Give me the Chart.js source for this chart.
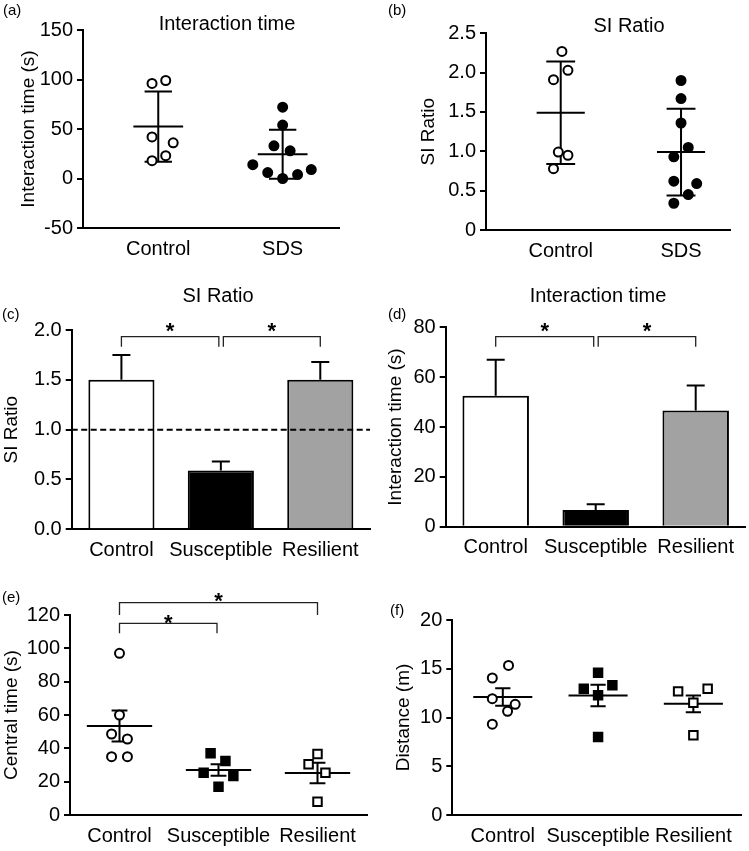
<!DOCTYPE html>
<html>
<head>
<meta charset="utf-8">
<title>Social interaction test</title>
<script src="https://cdn.jsdelivr.net/npm/chart.js@4.4.1/dist/chart.umd.min.js"></script>
<style>
  body { margin: 0; background: #fff; }
  #fig { position: relative; width: 749px; height: 851px; background: #fff; }
  #fig canvas { position: absolute; }
</style>
</head>
<body>
<div id="fig">
  <canvas id="chartA" width="375" height="265" style="left:0;top:0"></canvas>
  <canvas id="chartB" width="374" height="265" style="left:375px;top:0"></canvas>
  <canvas id="chartC" width="375" height="290" style="left:0;top:285px"></canvas>
  <canvas id="chartD" width="374" height="290" style="left:375px;top:285px"></canvas>
  <canvas id="chartE" width="375" height="276" style="left:0;top:575px"></canvas>
  <canvas id="chartF" width="374" height="276" style="left:375px;top:575px"></canvas>
</div>
<script>
const grupos2 = ['Control', 'SDS'];
const grupos3 = ['Control', 'Susceptible', 'Resilient'];

// (a) interaction time, each animal (x = small horizontal spread inside the group)
const aControlY = [96, 99, 42, 36, 23, 18];
const aControlX = [-0.05, 0.06, -0.05, 0.12, 0.06, -0.05];
const aSdsY = [72, 54, 33, 28, 14, 6, 4, 0, 9];
const aSdsX = [0, 0, -0.07, 0.06, -0.24, -0.12, 0.12, 0, 0.23];
const aMedia = [52.5, 24.5];
const aDp = [35.5, 24.7];

// (b) SI ratio, each animal
const bControlY = [2.27, 2.03, 1.91, 0.99, 0.95, 0.78];
const bControlX = [0.01, 0.06, -0.06, -0.02, 0.06, -0.06];
const bSdsY = [1.90, 1.67, 1.36, 1.05, 0.93, 0.62, 0.59, 0.45, 0.34];
const bSdsX = [0, 0, 0, 0.06, -0.06, -0.06, 0.13, 0.06, -0.06];
const bMedia = [1.49, 0.99];
const bDp = [0.65, 0.55];

// (c) SI ratio, mean + SEM
const cMedia = [1.5, 0.59, 1.5];
const cErro = [0.25, 0.09, 0.18];
const cLimiar = 1.0;
const cPares = [[0, 1], [1, 2]];

// (d) interaction time, mean + SEM
const dMedia = [52.5, 6.7, 46.6];
const dErro = [14.5, 2.3, 10];
const dPares = [[0, 1], [1, 2]];

// (e) central time
const eControlY = [97, 60, 48.6, 45.6, 35, 35];
const eControlX = [0, 0, -0.08, 0.08, -0.08, 0.08];
const eSuscY = [37, 32.4, 25.4, 23.4, 17];
const eSuscX = [-0.08, 0.07, -0.15, 0.15, 0];
const eResY = [36.6, 30.4, 25.4, 8];
const eResX = [0, -0.09, 0.08, 0];
const eMedia = [53.4, 27, 25.2];
const eErro = [9.3, 3.4, 6.2];
const ePares = [[0, 1], [0, 2]];

// (f) distance
const fControlY = [15.34, 14.05, 11.93, 11.35, 10.64, 9.31];
const fControlX = [0.06, -0.11, -0.11, 0.13, 0.05, -0.11];
const fSuscY = [14.6, 12.96, 13.3, 12.27, 8.0];
const fSuscX = [0, -0.15, 0.15, 0, 0];
const fResY = [12.68, 12.96, 11.52, 8.18];
const fResX = [-0.16, 0.15, 0, 0];
const fMedia = [12.1, 12.25, 11.4];
const fErro = [0.9, 1.1, 0.85];

const FONTE = "'Liberation Sans', Arial, Helvetica, sans-serif";
Chart.defaults.font.family = FONTE;
Chart.defaults.color = '#000';

// estilos dos marcadores
const circuloAberto = { pointStyle: 'circle', pointRadius: 4.5, pointBackgroundColor: '#fff', pointBorderColor: '#000', pointBorderWidth: 2 };
const circuloCheio = { pointStyle: 'circle', pointRadius: 4.5, pointBackgroundColor: '#000', pointBorderColor: '#000', pointBorderWidth: 2 };
const quadradoCheio = { pointStyle: 'rect', pointRadius: 6, pointBackgroundColor: '#000', pointBorderColor: '#000', pointBorderWidth: 2 };
const quadradoAberto = { pointStyle: 'rect', pointRadius: 6, pointBackgroundColor: '#fff', pointBorderColor: '#000', pointBorderWidth: 2 };

function pontos(grupo, xs, ys, estilo) {
    return Object.assign({
        data: ys.map((v, i) => ({ x: grupo + xs[i], y: v }))
    }, estilo);
}

function eixoY(min, max, passo, titulo, largura, padTitulo, formato) {
    return {
        min: min,
        max: max,
        ticks: { stepSize: passo, color: '#000', font: { size: 20 }, padding: 4, callback: formato },
        grid: { drawOnChartArea: false, color: '#000', lineWidth: 2, tickLength: 6 },
        border: { color: '#000', width: 2 },
        title: { display: true, text: titulo, color: '#000', font: { size: 19 }, padding: { top: padTitulo, bottom: 0 } },
        afterFit: function (s) { s.width = largura; }
    };
}

function eixoXPontos(nomes, min, max, altura) {
    return {
        type: 'linear',
        min: min,
        max: max,
        afterBuildTicks: function (s) { s.ticks = nomes.map((n, i) => ({ value: i })); },
        ticks: { callback: (v) => nomes[v], color: '#000', font: { size: 20 }, padding: 9, maxRotation: 0, autoSkip: false },
        grid: { display: false, drawTicks: false },
        border: { color: '#000', width: 2 },
        afterFit: function (s) { s.height = altura; }
    };
}

function eixoXBarras(altura) {
    return {
        ticks: { color: '#000', font: { size: 20 }, padding: 9, maxRotation: 0, autoSkip: false },
        grid: { display: false, drawTicks: false },
        border: { color: '#000', width: 2 },
        afterFit: function (s) { s.height = altura; }
    };
}

function opcoesBase(pad, eixos, extras) {
    return {
        responsive: false,
        animation: false,
        events: [],
        layout: { padding: pad },
        plugins: Object.assign({ legend: { display: false }, tooltip: { enabled: false } }, extras),
        scales: eixos
    };
}

const numero = (v) => String(v);
const umDecimal = (v) => v.toFixed(1);

// letra do painel e titulo
const textoPainel = {
    id: 'textoPainel',
    afterDraw(chart, args, o) {
        const ctx = chart.ctx;
        ctx.save();
        ctx.fillStyle = '#000';
        ctx.textBaseline = 'alphabetic';
        ctx.textAlign = 'left';
        ctx.font = '15px ' + FONTE;
        ctx.fillText(o.letra, o.lx, o.ly);
        if (o.titulo) {
            ctx.textAlign = 'center';
            ctx.font = '20px ' + FONTE;
            ctx.fillText(o.titulo, o.tx, o.ty);
        }
        ctx.restore();
    }
};

// media com barras de erro (graficos de pontos)
const mediaErro = {
    id: 'mediaErro',
    beforeDatasetsDraw(chart, args, o) {
        const ctx = chart.ctx, x = chart.scales.x, y = chart.scales.y;
        ctx.save();
        ctx.strokeStyle = '#000';
        ctx.lineWidth = 2;
        o.media.forEach((m, i) => {
            const cx = x.getPixelForValue(i);
            const ym = y.getPixelForValue(m);
            const yt = y.getPixelForValue(m + o.erro[i]);
            const yb = y.getPixelForValue(m - o.erro[i]);
            const tampa = x.getPixelForValue(i + o.tampa) - cx;
            ctx.beginPath();
            ctx.moveTo(x.getPixelForValue(i - o.meia), ym);
            ctx.lineTo(x.getPixelForValue(i + o.meia), ym);
            ctx.moveTo(cx, yt);
            ctx.lineTo(cx, yb);
            ctx.moveTo(cx - tampa, yt);
            ctx.lineTo(cx + tampa, yt);
            ctx.moveTo(cx - tampa, yb);
            ctx.lineTo(cx + tampa, yb);
            ctx.stroke();
        });
        ctx.restore();
    }
};

// erro para cima nas colunas
const erroColuna = {
    id: 'erroColuna',
    afterDatasetsDraw(chart, args, o) {
        const ctx = chart.ctx, y = chart.scales.y;
        const valores = chart.data.datasets[0].data;
        ctx.save();
        ctx.strokeStyle = '#000';
        ctx.lineWidth = 2;
        chart.getDatasetMeta(0).data.forEach((barra, i) => {
            const y0 = y.getPixelForValue(valores[i]);
            const y1 = y.getPixelForValue(valores[i] + o.erro[i]);
            ctx.beginPath();
            ctx.moveTo(barra.x, y0);
            ctx.lineTo(barra.x, y1);
            ctx.moveTo(barra.x - 9, y1);
            ctx.lineTo(barra.x + 9, y1);
            ctx.stroke();
        });
        ctx.restore();
    }
};

// linha tracejada de referencia
const linhaRef = {
    id: 'linhaRef',
    afterDatasetsDraw(chart, args, o) {
        const ctx = chart.ctx, a = chart.chartArea;
        const yv = chart.scales.y.getPixelForValue(o.valor);
        ctx.save();
        ctx.strokeStyle = '#000';
        ctx.lineWidth = 2;
        ctx.setLineDash([6, 3.5]);
        ctx.beginPath();
        ctx.moveTo(a.left, yv);
        ctx.lineTo(a.right, yv);
        ctx.stroke();
        ctx.restore();
    }
};

// chaves de significancia
const chaves = {
    id: 'chaves',
    afterDraw(chart, args, o) {
        const ctx = chart.ctx, x = chart.scales.x, topo = chart.chartArea.top;
        ctx.save();
        ctx.strokeStyle = '#222';
        ctx.lineWidth = 1.3;
        ctx.fillStyle = '#000';
        ctx.textAlign = 'center';
        ctx.textBaseline = 'alphabetic';
        ctx.font = 'bold 22px ' + FONTE;
        o.pares.forEach((par, i) => {
            const f = o.formas[i];
            const x0 = x.getPixelForValue(par[0]) + f.recuo[0];
            const x1 = x.getPixelForValue(par[1]) - f.recuo[1];
            const yl = topo + f.dy;
            ctx.beginPath();
            ctx.moveTo(x0, yl + f.queda);
            ctx.lineTo(x0, yl);
            ctx.lineTo(x1, yl);
            ctx.lineTo(x1, yl + f.queda);
            ctx.stroke();
            ctx.fillText('*', (x0 + x1) / 2, yl - f.estrela + 0.57 * 22);
        });
        ctx.restore();
    }
};

// (a)
new Chart(document.getElementById('chartA'), {
    type: 'scatter',
    data: { datasets: [
        pontos(0, aControlX, aControlY, circuloAberto),
        pontos(1, aSdsX, aSdsY, circuloCheio)
    ] },
    options: opcoesBase({ left: 0, top: 30, right: 36, bottom: 0 }, {
        x: eixoXPontos(grupos2, -0.605, 1.453, 37),
        y: eixoY(-50, 150, 50, 'Interaction time (s)', 83, 17.6, numero)
    }, {
        textoPainel: { letra: '(a)', lx: 3, ly: 15, titulo: 'Interaction time', tx: 227, ty: 30 },
        mediaErro: { media: aMedia, erro: aDp, meia: 0.2, tampa: 0.11 }
    }),
    plugins: [textoPainel, mediaErro]
});

// (b)
new Chart(document.getElementById('chartB'), {
    type: 'scatter',
    data: { datasets: [
        pontos(0, bControlX, bControlY, circuloAberto),
        pontos(1, bSdsX, bSdsY, circuloCheio)
    ] },
    options: opcoesBase({ left: 0, top: 33.3, right: 19, bottom: 0 }, {
        x: eixoXPontos(grupos2, -0.621, 1.407, 35),
        y: eixoY(0, 2.5, 0.5, 'SI Ratio', 111, 42, (v) => v === 0 ? '0' : v.toFixed(1))
    }, {
        textoPainel: { letra: '(b)', lx: 13, ly: 15, titulo: 'SI Ratio', tx: 254, ty: 31.5 },
        mediaErro: { media: bMedia, erro: bDp, meia: 0.2, tampa: 0.12 }
    }),
    plugins: [textoPainel, mediaErro]
});

// (c)
new Chart(document.getElementById('chartC'), {
    type: 'bar',
    data: {
        labels: grupos3,
        datasets: [{
            data: cMedia,
            backgroundColor: ['#ffffff', '#000000', '#a2a2a2'],
            borderColor: '#000',
            borderWidth: 2,
            barPercentage: 0.665,
            categoryPercentage: 1
        }]
    },
    options: opcoesBase({ left: 0, top: 45, right: 5, bottom: 0 }, {
        x: eixoXBarras(45.7),
        y: eixoY(0, 2, 0.5, 'SI Ratio', 71.7, 0, umDecimal)
    }, {
        textoPainel: { letra: '(c)', lx: 2, ly: 34, titulo: 'SI Ratio', tx: 218, ty: 17 },
        erroColuna: { erro: cErro },
        linhaRef: { valor: cLimiar },
        chaves: { pares: cPares, formas: [
            { recuo: [0, 2], dy: 6.7, queda: 10, estrela: 11.5 },
            { recuo: [2.5, 0], dy: 6.7, queda: 10, estrela: 11.5 }
        ] }
    }),
    plugins: [textoPainel, erroColuna, linhaRef, chaves]
});

// (d)
new Chart(document.getElementById('chartD'), {
    type: 'bar',
    data: {
        labels: grupos3,
        datasets: [{
            data: dMedia,
            backgroundColor: ['#ffffff', '#000000', '#a2a2a2'],
            borderColor: '#000',
            borderWidth: 2,
            barPercentage: 0.665,
            categoryPercentage: 1
        }]
    },
    options: opcoesBase({ left: 0, top: 42.3, right: 3.3, bottom: 0 }, {
        x: eixoXBarras(48.3),
        y: eixoY(0, 80, 20, 'Interaction time (s)', 70.7, 9.6, numero)
    }, {
        textoPainel: { letra: '(d)', lx: 13, ly: 33.5, titulo: 'Interaction time', tx: 223, ty: 17 },
        erroColuna: { erro: dErro },
        chaves: { pares: dPares, formas: [
            { recuo: [0, 2], dy: 9.4, queda: 10, estrela: 11.5 },
            { recuo: [2.5, 0], dy: 9.4, queda: 10, estrela: 11.5 }
        ] }
    }),
    plugins: [textoPainel, erroColuna, chaves]
});

// (e)
new Chart(document.getElementById('chartE'), {
    type: 'scatter',
    data: { datasets: [
        pontos(0, eControlX, eControlY, circuloAberto),
        pontos(1, eSuscX, eSuscY, quadradoCheio),
        pontos(2, eResX, eResY, quadradoAberto)
    ] },
    options: opcoesBase({ left: 0, top: 40, right: 5, bottom: 0 }, {
        x: eixoXPontos(grupos3, -0.5, 2.5, 36),
        y: eixoY(0, 120, 20, 'Central time (s)', 70, 0, numero)
    }, {
        textoPainel: { letra: '(e)', lx: 2, ly: 27 },
        mediaErro: { media: eMedia, erro: eErro, meia: 0.33, tampa: 0.08 },
        chaves: { pares: ePares, formas: [
            { recuo: [0, 1.5], dy: 8.3, queda: 10, estrela: 6 },
            { recuo: [0, 0], dy: -12.3, queda: 12.3, estrela: 7.3 }
        ] }
    }),
    plugins: [textoPainel, mediaErro, chaves]
});

// (f)
new Chart(document.getElementById('chartF'), {
    type: 'scatter',
    data: { datasets: [
        pontos(0, fControlX, fControlY, circuloAberto),
        pontos(1, fSuscX, fSuscY, quadradoCheio),
        pontos(2, fResX, fResY, quadradoAberto)
    ] },
    options: opcoesBase({ left: 0, top: 45, right: 4, bottom: 0 }, {
        x: eixoXPontos(grupos3, -0.53, 2.5, 36),
        y: eixoY(0, 20, 5, 'Distance (m)', 77.3, 17.6, numero)
    }, {
        textoPainel: { letra: '(f)', lx: 15, ly: 40 },
        mediaErro: { media: fMedia, erro: fErro, meia: 0.31, tampa: 0.08 }
    }),
    plugins: [textoPainel, mediaErro]
});
</script>
</body>
</html>
